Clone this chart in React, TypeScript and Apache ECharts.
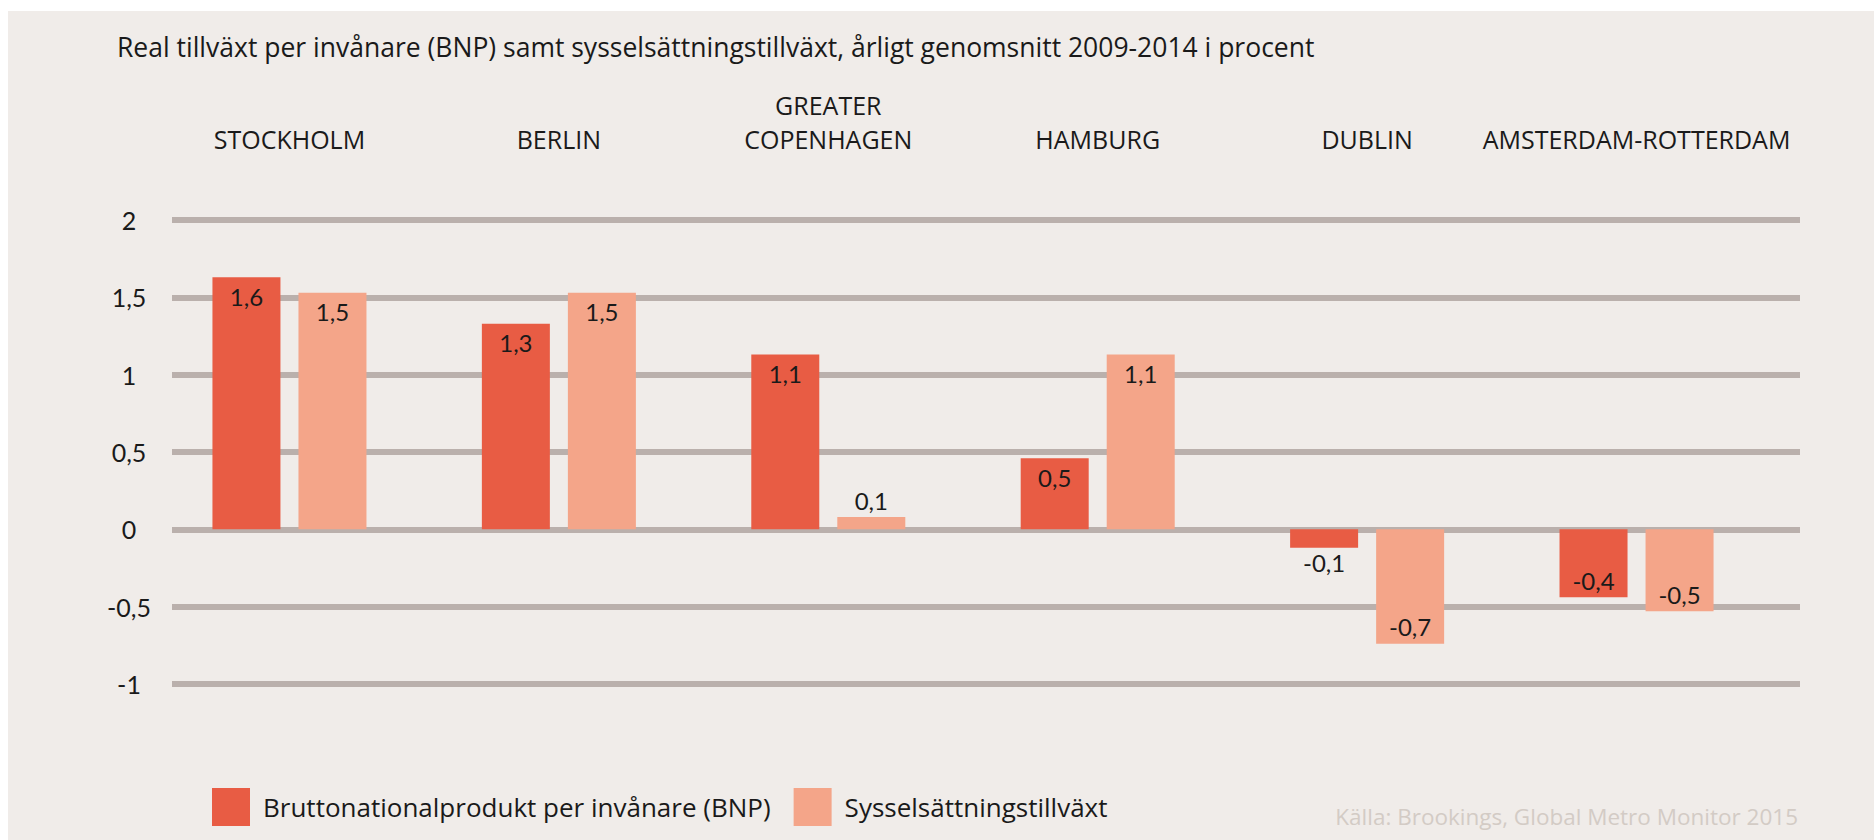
import React, { useEffect, useRef } from "react";
import * as echarts from "echarts";

const categories = [
  "STOCKHOLM",
  "BERLIN",
  "GREATER\nCOPENHAGEN",
  "HAMBURG",
  "DUBLIN",
  "AMSTERDAM-ROTTERDAM",
];
const bnpValues = [1.63, 1.33, 1.13, 0.46, -0.12, -0.44];
const jobValues = [1.53, 1.53, 0.08, 1.13, -0.74, -0.53];
const seriesNames = ["Bruttonationalprodukt per invånare (BNP)", "Sysselsättningstillväxt"];
const yTicks = { min: -1, max: 2, interval: 0.5 };
const titleText = "Real tillväxt per invånare (BNP) samt sysselsättningstillväxt, årligt genomsnitt 2009-2014 i procent";
const sourceText = "Källa: Brookings, Global Metro Monitor 2015";

const TEXT_FONT = "'Open Sans', sans-serif";
const NUM_FONT = "Lato, sans-serif";

function fmt(v: number) {
  return v.toFixed(1).replace(".", ",");
}

function labelFor(v: number) {
  if (v >= 0 && v < 0.25) return { position: "top", distance: 4 };
  if (v < 0 && v > -0.25) return { position: "bottom", distance: 3 };
  if (v < 0) return { position: "insideBottom", distance: 5 };
  return { position: "insideTop", distance: 7 };
}

export default function App() {
  const ref = useRef<HTMLDivElement>(null);
  useEffect(() => {
    if (!ref.current) return;
    const chart = echarts.init(ref.current, undefined, { renderer: "svg" });
    const gridTop = 209.1;
    const gridHeight = 463.8;
    const mkData = (arr: number[]) =>
      arr.map((v) => ({ value: v, label: labelFor(v) }));
    chart.setOption({
      animation: false,
      backgroundColor: "#F0ECE9",
      title: [
        {
          text: titleText,
          left: 109,
          top: 22,
          padding: 0,
          textStyle: { fontFamily: TEXT_FONT, fontSize: 26.5, fontWeight: "normal", color: "#1a1a1a" },
        },
        {
          text: sourceText,
          right: 76,
          top: 794,
          padding: 0,
          textStyle: { fontFamily: TEXT_FONT, fontSize: 22.5, fontWeight: "normal", color: "#D3CBC5" },
        },
      ],
      legend: {
        left: 204,
        top: 777,
        padding: 0,
        icon: "rect",
        itemWidth: 38,
        itemHeight: 38,
        itemGap: 23,
        textStyle: { fontFamily: TEXT_FONT, fontSize: 26, color: "#1a1a1a", padding: [0, 0, 0, 8] },
        data: seriesNames,
      },
      grid: [
        { left: 146.75, top: gridTop, width: 1616.5, height: gridHeight },
        { left: 164, top: gridTop, width: 1628, height: gridHeight },
      ],
      xAxis: [
        {
          type: "category",
          gridIndex: 0,
          position: "top",
          data: categories,
          axisLine: { show: false },
          axisTick: { show: false },
          axisLabel: {
            fontFamily: TEXT_FONT,
            fontSize: 25,
            color: "#1a1a1a",
            lineHeight: 34,
            margin: 64,
            interval: 0,
          },
        },
        { type: "value", gridIndex: 1, min: 0, max: 1, show: false },
      ],
      yAxis: [
        { type: "value", gridIndex: 0, ...yTicks, show: false, splitLine: { show: false } },
        {
          type: "value",
          gridIndex: 1,
          ...yTicks,
          axisLine: { show: false },
          axisTick: { show: false },
          splitLine: { show: true, lineStyle: { color: "#BAB0AC", width: 6 } },
          axisLabel: {
            fontFamily: NUM_FONT,
            fontSize: 25,
            color: "#1a1a1a",
            align: "center",
            margin: 43,
            formatter: (v: number) => String(v).replace(".", ","),
          },
        },
      ],
      series: [
        {
          name: seriesNames[0],
          type: "bar",
          xAxisIndex: 0,
          yAxisIndex: 0,
          barWidth: 68,
          barGap: "26.5%",
          itemStyle: { color: "#E85C44" },
          label: {
            show: true,
            fontFamily: NUM_FONT,
            fontSize: 24,
            color: "#1a1a1a",
            formatter: (p: any) => fmt(p.value),
          },
          data: mkData(bnpValues),
        },
        {
          name: seriesNames[1],
          type: "bar",
          xAxisIndex: 0,
          yAxisIndex: 0,
          barWidth: 68,
          barGap: "26.5%",
          itemStyle: { color: "#F4A589" },
          label: {
            show: true,
            fontFamily: NUM_FONT,
            fontSize: 24,
            color: "#1a1a1a",
            formatter: (p: any) => fmt(p.value),
          },
          data: mkData(jobValues),
        },
      ],
    });
    return () => chart.dispose();
  }, []);
  return (
    <div
      ref={ref}
      style={{ position: "absolute", left: 8, top: 11, width: 1866, height: 829 }}
    />
  );
}
